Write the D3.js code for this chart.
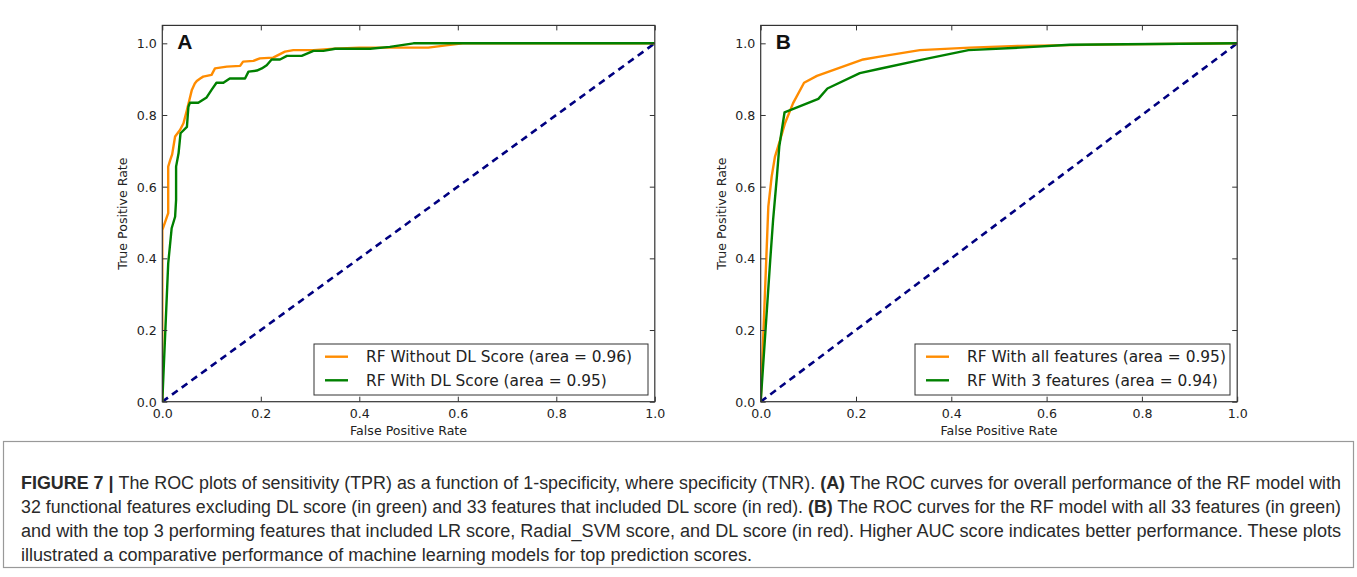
<!DOCTYPE html>
<html><head><meta charset="utf-8">
<script src="https://cdn.jsdelivr.net/npm/d3@7/dist/d3.min.js"></script>
<style>body{margin:0;background:#fff;}svg{display:block;}</style>
</head><body><svg id="c" width="1357" height="577"></svg>
<script>
// ---- data ----
const tickVals = [0, 0.2, 0.4, 0.6, 0.8, 1.0];
const panelLetters = ["A", "B"];
const legendA = ["RF Without DL Score (area = 0.96)", "RF With DL Score (area = 0.95)"];
const legendB = ["RF With all features (area = 0.95)", "RF With 3 features (area = 0.94)"];
const diagX = [0, 1];
const diagY = [0, 1];
// Panel A, orange: RF without DL score
const fprA1 = [0, 0, 0.012, 0.012, 0.016, 0.020, 0.026, 0.036, 0.043, 0.050, 0.055, 0.060, 0.066, 0.070, 0.077, 0.083, 0.100, 0.107, 0.131, 0.158, 0.164, 0.185, 0.198, 0.225, 0.232, 0.249, 0.266, 0.307, 0.35, 0.40, 0.54, 0.58, 0.61, 1.0];
const tprA1 = [0, 0.479, 0.526, 0.656, 0.674, 0.690, 0.740, 0.758, 0.777, 0.814, 0.842, 0.870, 0.888, 0.895, 0.902, 0.907, 0.912, 0.930, 0.935, 0.937, 0.949, 0.951, 0.958, 0.960, 0.965, 0.977, 0.981, 0.981, 0.985, 0.988, 0.988, 0.995, 1.0, 1.0];
// Panel A, green: RF with DL score
const fprA2 = [0, 0.012, 0.019, 0.026, 0.028, 0.028, 0.033, 0.037, 0.050, 0.053, 0.056, 0.073, 0.090, 0.100, 0.110, 0.124, 0.137, 0.168, 0.175, 0.192, 0.202, 0.212, 0.222, 0.239, 0.253, 0.283, 0.307, 0.327, 0.351, 0.422, 0.462, 0.510, 1.0];
const tprA2 = [0, 0.386, 0.484, 0.516, 0.563, 0.656, 0.693, 0.749, 0.767, 0.823, 0.834, 0.834, 0.849, 0.870, 0.890, 0.890, 0.902, 0.902, 0.921, 0.924, 0.930, 0.939, 0.955, 0.955, 0.965, 0.965, 0.979, 0.979, 0.985, 0.985, 0.990, 1.0, 1.0];
// Panel B, orange: RF with all features
const fprB1 = [0, 0.016, 0.023, 0.030, 0.041, 0.051, 0.068, 0.091, 0.118, 0.215, 0.250, 0.334, 0.439, 0.544, 0.754, 1.0];
const tprB1 = [0, 0.544, 0.628, 0.684, 0.731, 0.777, 0.833, 0.890, 0.909, 0.955, 0.963, 0.981, 0.988, 0.993, 0.997, 1.0];
// Panel B, green: RF with 3 features
const fprB2 = [0, 0.020, 0.026, 0.034, 0.039, 0.050, 0.121, 0.140, 0.208, 0.250, 0.334, 0.436, 0.544, 0.649, 1.0];
const tprB2 = [0, 0.395, 0.507, 0.628, 0.712, 0.807, 0.845, 0.874, 0.917, 0.929, 0.953, 0.981, 0.988, 0.996, 1.0];

const captionLines = [
  [["FIGURE 7 | ", true], ["The ROC plots of sensitivity (TPR) as a function of 1-specificity, where specificity (TNR). ", false], ["(A)", true], [" The ROC curves for overall performance of the RF model with", false]],
  [["32 functional features excluding DL score (in green) and 33 features that included DL score (in red). ", false], ["(B)", true], [" The ROC curves for the RF model with all 33 features (in green)", false]],
  [["and with the top 3 performing features that included LR score, Radial_SVM score, and DL score (in red). Higher AUC score indicates better performance. These plots", false]],
  [["illustrated a comparative performance of machine learning models for top prediction scores.", false]]
];

// ---- drawing ----
const svg = d3.select("#c");
const ORANGE = "#ff8c00", GREEN = "#008000", NAVY = "#000080";
const font = "'DejaVu Sans', sans-serif";

const panels = [
  {x0: 162.3, x1: 654.8, letter: panelLetters[0], legend: legendA, lx0: 314, lx1: 648,
   s1: [fprA1, tprA1], s2: [fprA2, tprA2]},
  {x0: 760.7, x1: 1237.2, letter: panelLetters[1], legend: legendB, lx0: 915, lx1: 1230,
   s1: [fprB1, tprB1], s2: [fprB2, tprB2]}
];
const yBottom = 401.7, yTop = 25.4;

panels.forEach(p => {
  const x = d3.scaleLinear().domain([0, 1]).range([p.x0, p.x1]);
  const y = d3.scaleLinear().domain([0, 1.05]).range([yBottom, yTop]);
  const g = svg.append("g");

  const line = d3.line().x(d => x(d[0])).y(d => y(d[1]));
  const clip = "clip" + p.letter;
  svg.append("clipPath").attr("id", clip).append("rect")
    .attr("x", p.x0).attr("y", yTop).attr("width", p.x1 - p.x0).attr("height", yBottom - yTop);
  const plot = g.append("g").attr("clip-path", `url(#${clip})`);

  plot.append("path").datum(d3.zip(diagX, diagY)).attr("d", line)
    .attr("fill", "none").attr("stroke", NAVY).attr("stroke-width", 2.6).attr("stroke-dasharray", "7,5");
  plot.append("path").datum(d3.zip(p.s1[0], p.s1[1])).attr("d", line)
    .attr("fill", "none").attr("stroke", ORANGE).attr("stroke-width", 2.4).attr("stroke-linejoin", "round");
  plot.append("path").datum(d3.zip(p.s2[0], p.s2[1])).attr("d", line)
    .attr("fill", "none").attr("stroke", GREEN).attr("stroke-width", 2.4).attr("stroke-linejoin", "round");

  const fmt = d3.format(".1f");
  const axB = g.append("g").attr("transform", `translate(0,${yBottom})`)
    .call(d3.axisBottom(x).tickValues(tickVals).tickFormat(fmt).tickSize(-5).tickPadding(7.5));
  const axT = g.append("g").attr("transform", `translate(0,${yTop})`)
    .call(d3.axisTop(x).tickValues(tickVals).tickFormat("").tickSize(-5));
  const axL = g.append("g").attr("transform", `translate(${p.x0},0)`)
    .call(d3.axisLeft(y).tickValues(tickVals).tickFormat(fmt).tickSize(-5).tickPadding(5.5));
  const axR = g.append("g").attr("transform", `translate(${p.x1},0)`)
    .call(d3.axisRight(y).tickValues(tickVals).tickFormat("").tickSize(-5));
  [axB, axT, axL, axR].forEach(a => {
    a.select(".domain").remove();
    a.selectAll("line").attr("stroke", "#333").attr("stroke-width", 1);
    a.selectAll("text").attr("font-family", font).attr("font-size", 12.6).attr("fill", "#222");
  });
  axL.selectAll("text").attr("dy", "0.36em");

  g.append("rect").attr("x", p.x0).attr("y", yTop).attr("width", p.x1 - p.x0).attr("height", yBottom - yTop)
    .attr("fill", "none").attr("stroke", "#333").attr("stroke-width", 1.2);

  g.append("text").attr("x", p.x0 + 15).attr("y", 48.5).text(p.letter)
    .attr("font-family", "'Liberation Sans', Arial, sans-serif").attr("font-weight", "bold")
    .attr("font-size", 21).attr("fill", "#111");

  g.append("text").attr("x", (p.x0 + p.x1) / 2).attr("y", 435).attr("text-anchor", "middle")
    .attr("font-family", font).attr("font-size", 12.6).attr("fill", "#222").text("False Positive Rate");
  g.append("text").attr("transform", `translate(${p.x0 - 35},${(yTop + yBottom) / 2}) rotate(-90)`)
    .attr("text-anchor", "middle").attr("font-family", font).attr("font-size", 12.6).attr("fill", "#222")
    .text("True Positive Rate");

  const lg = g.append("g");
  lg.append("rect").attr("x", p.lx0).attr("y", 344).attr("width", p.lx1 - p.lx0).attr("height", 51)
    .attr("fill", "#fff").attr("stroke", "#333").attr("stroke-width", 1);
  [[ORANGE, p.legend[0], 356.7], [GREEN, p.legend[1], 380.3]].forEach(([c, t, yy]) => {
    lg.append("line").attr("x1", p.lx0 + 11).attr("x2", p.lx0 + 34).attr("y1", yy).attr("y2", yy)
      .attr("stroke", c).attr("stroke-width", 2.4);
    lg.append("text").attr("x", p.lx0 + 52).attr("y", yy).attr("dy", "0.36em")
      .attr("font-family", font).attr("font-size", 15.4).attr("fill", "#222").text(t);
  });
});

// caption box
svg.append("rect").attr("x", 3.5).attr("y", 441.5).attr("width", 1350).attr("height", 126)
  .attr("fill", "none").attr("stroke", "#999").attr("stroke-width", 1.2);

const capX0 = 21;
const capWidths = [1320, 1320, 1320, 731];
const baselines = [488.5, 512.5, 536.5, 560.5];
captionLines.forEach((parts, i) => {
  const t = svg.append("text").attr("x", capX0).attr("y", baselines[i])
    .attr("font-family", "'Liberation Sans', Arial, sans-serif").attr("font-size", 17.6).attr("fill", "#2a2a2a")
    .attr("textLength", capWidths[i]).attr("lengthAdjust", "spacingAndGlyphs");
  parts.forEach(([s, b]) => {
    t.append("tspan").text(s).attr("font-weight", b ? "bold" : "normal");
  });
});
</script></body></html>
